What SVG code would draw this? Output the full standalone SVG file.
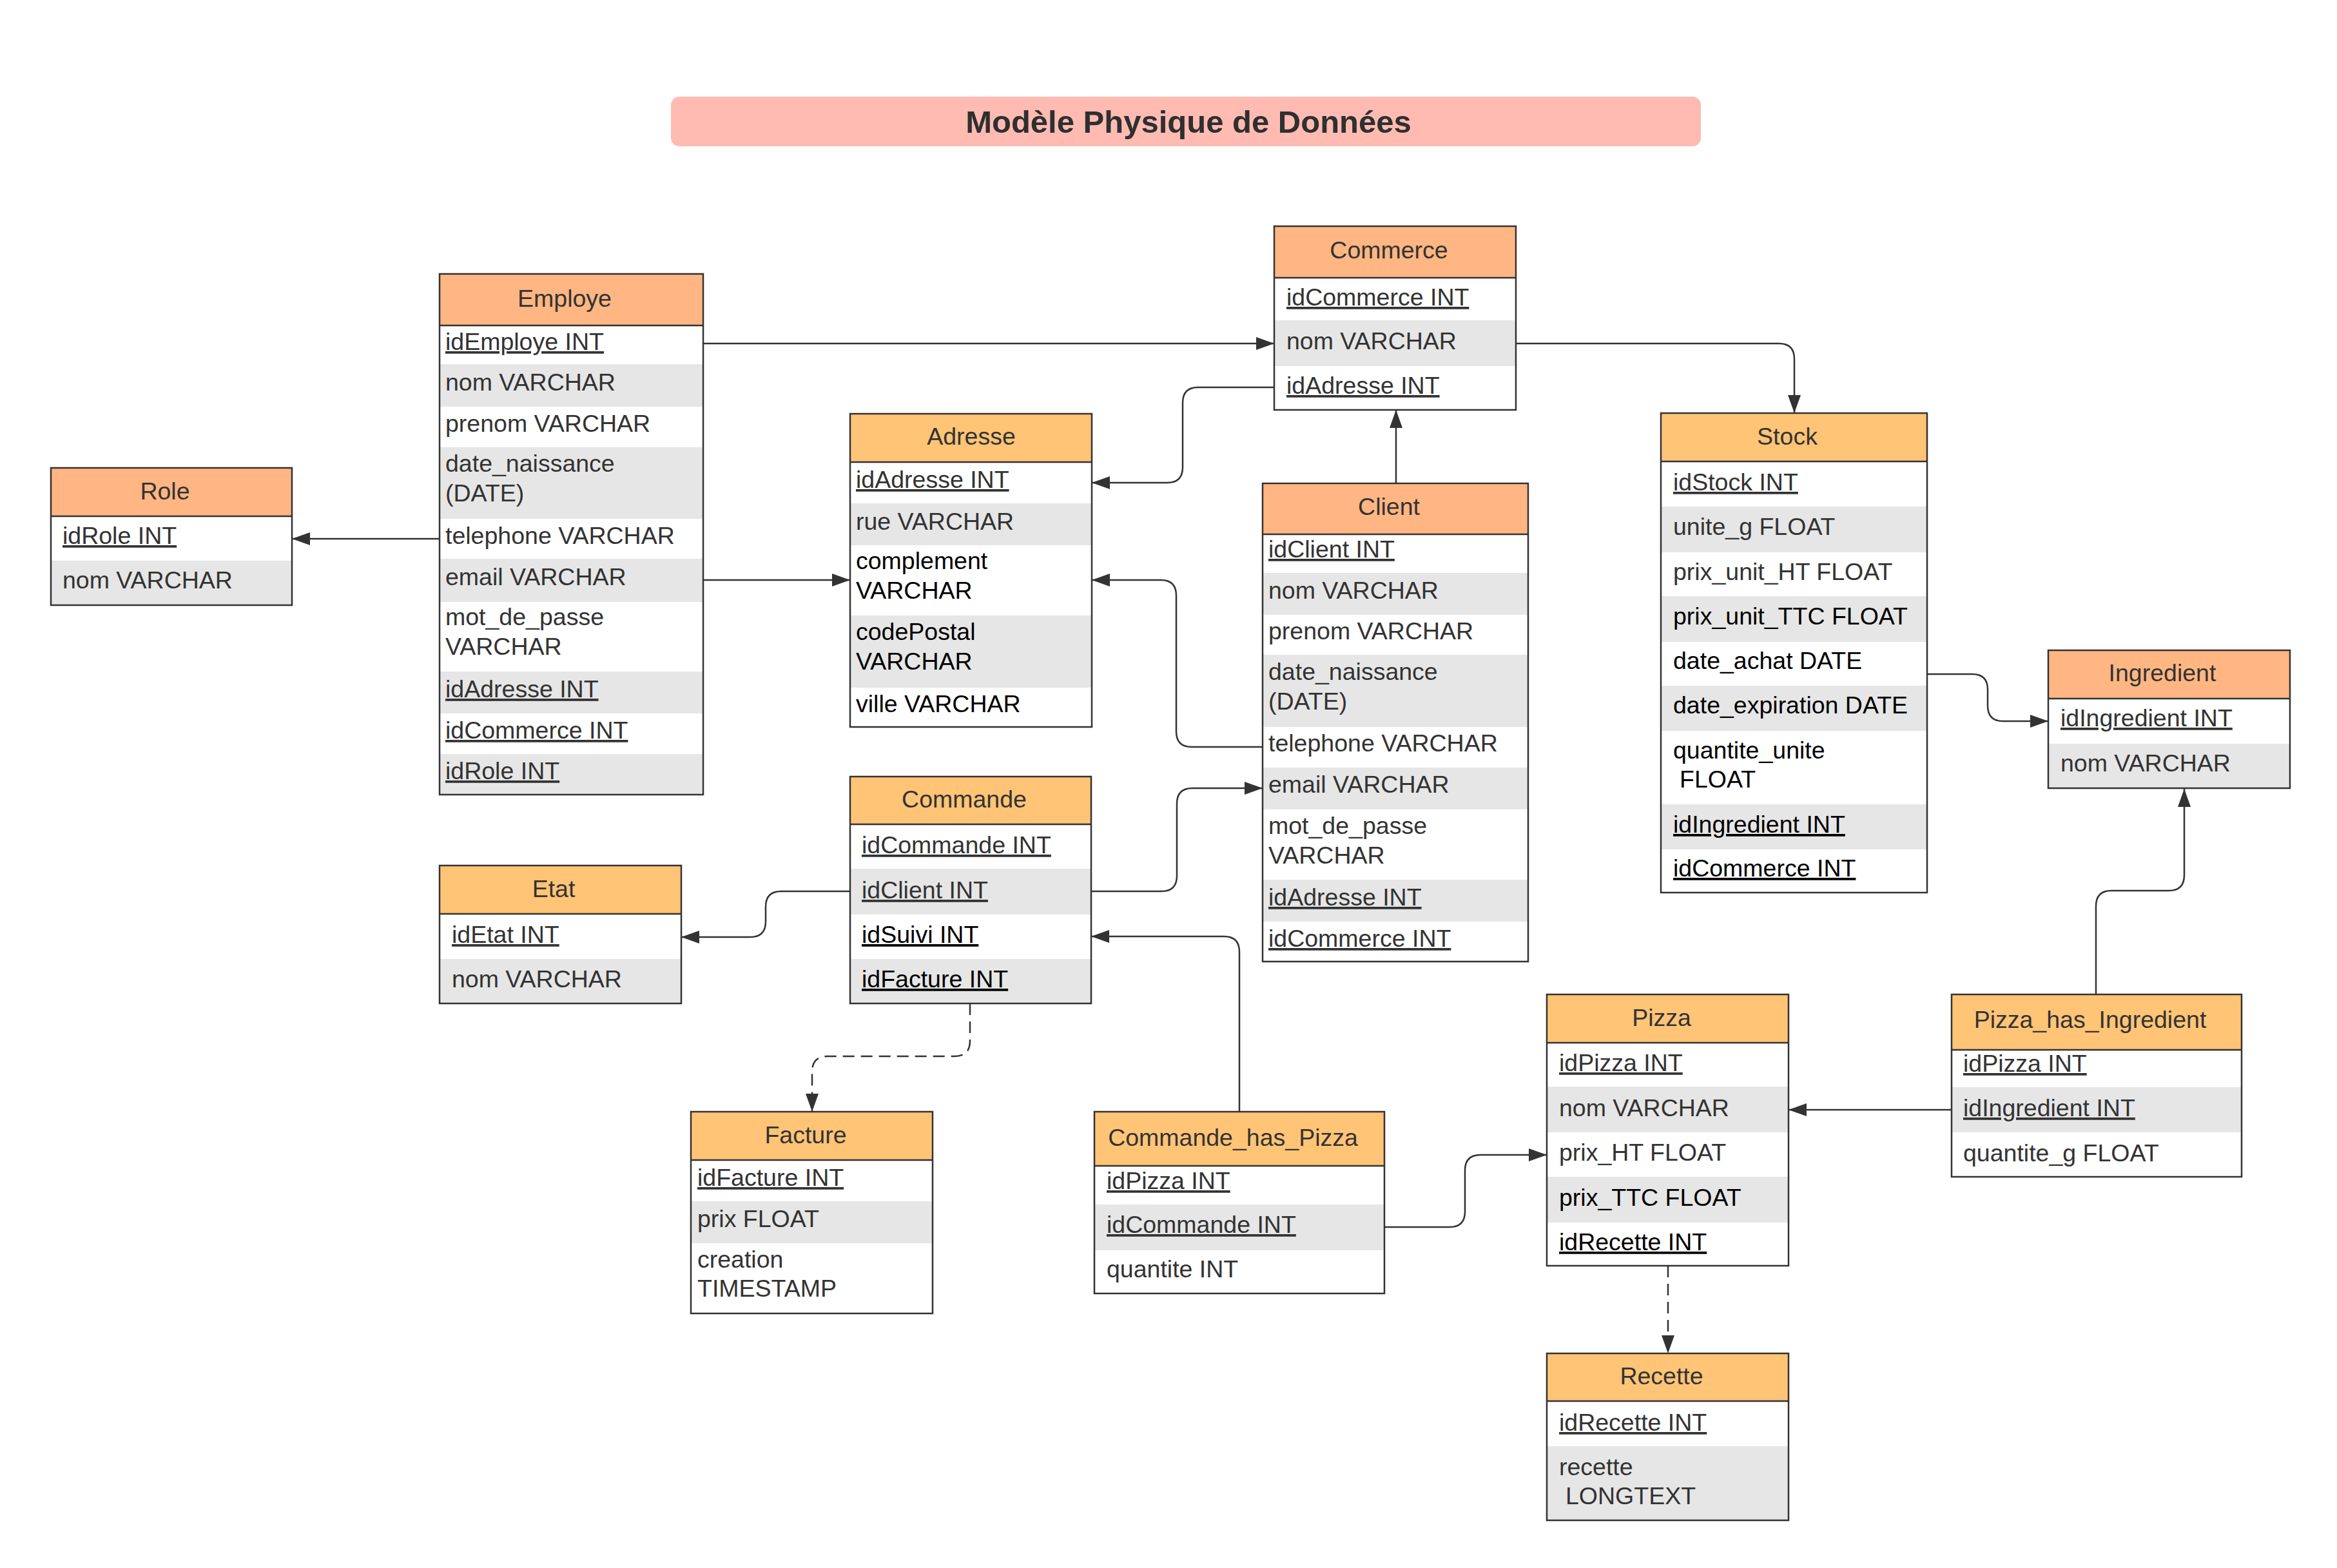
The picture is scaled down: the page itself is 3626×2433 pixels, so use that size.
<svg xmlns="http://www.w3.org/2000/svg" width="3626" height="2433" viewBox="0 0 3626 2433">
<style>
.bg{fill:#ffffff}
.hA{fill:#FFB682}
.hB{fill:#FFC476}
.w{fill:#ffffff}
.g{fill:#E6E6E6}
.box{fill:none;stroke:#333333;stroke-width:2.5}
.t{font-family:"Liberation Sans",Arial,sans-serif;font-size:37.5px;fill:#333333}
.k{fill:#000000}
.u{text-decoration:underline}
.h{text-anchor:middle}
.c{fill:none;stroke:#333333;stroke-width:2.5}
.d{stroke-dasharray:18 10}
</style>
<defs>
<marker id="arr" markerWidth="28" markerHeight="20" refX="28" refY="10" orient="auto" markerUnits="userSpaceOnUse"><path d="M0,0 L28,10 L0,20 Z" fill="#333333"/></marker>
</defs>
<rect class="bg" x="0" y="0" width="3626" height="2433"/>

<g id="title">
<rect x="1041" y="150" width="1598" height="77" rx="13" fill="#FFBBB2"/>
<text x="1844" y="206" class="h" font-family="Liberation Sans, Arial, sans-serif" font-size="49" font-weight="bold" fill="#2f2f2f">Modèle Physique de Données</text>
</g>

<g id="connectors">
<path class="c" d="M1091,533 H1977" marker-end="url(#arr)"/>
<path class="c" d="M682,836 H453" marker-end="url(#arr)"/>
<path class="c" d="M1091,900 H1319" marker-end="url(#arr)"/>
<path class="c" d="M1977,601 H1859 Q1835,601 1835,625 V725 Q1835,749 1811,749 H1694" marker-end="url(#arr)"/>
<path class="c" d="M2352,533 H2760 Q2784,533 2784,557 V641" marker-end="url(#arr)"/>
<path class="c" d="M2166,750 V636" marker-end="url(#arr)"/>
<path class="c" d="M1959,1159 H1849 Q1825,1159 1825,1135 V924 Q1825,900 1801,900 H1694" marker-end="url(#arr)"/>
<path class="c" d="M1693,1383 H1802 Q1826,1383 1826,1359 V1247 Q1826,1223 1850,1223 H1959" marker-end="url(#arr)"/>
<path class="c" d="M1923,1725 V1477 Q1923,1453 1899,1453 H1693" marker-end="url(#arr)"/>
<path class="c" d="M1319,1383 H1212 Q1188,1383 1188,1407 V1430 Q1188,1454 1164,1454 H1057" marker-end="url(#arr)"/>
<path class="c d" d="M1505,1557 V1615 Q1505,1639 1481,1639 H1284 Q1260,1639 1260,1663 V1725" marker-end="url(#arr)"/>
<path class="c" d="M2148,1904 H2249 Q2273,1904 2273,1880 V1816 Q2273,1792 2297,1792 H2400" marker-end="url(#arr)"/>
<path class="c" d="M3028,1722 H2775" marker-end="url(#arr)"/>
<path class="c" d="M3252,1543 V1406 Q3252,1382 3276,1382 H3365 Q3389,1382 3389,1358 V1224" marker-end="url(#arr)"/>
<path class="c" d="M2990,1046 H3060 Q3084,1046 3084,1070 V1095 Q3084,1119 3108,1119 H3178" marker-end="url(#arr)"/>
<path class="c d" d="M2588,1964 V2100" marker-end="url(#arr)"/>
</g>

<g id="employe">
<rect class="hA" x="682" y="425" width="409" height="80"/>
<rect class="w" x="682" y="505" width="409" height="60"/>
<rect class="g" x="682" y="565" width="409" height="66"/>
<rect class="w" x="682" y="631" width="409" height="63"/>
<rect class="g" x="682" y="694" width="409" height="111"/>
<rect class="w" x="682" y="805" width="409" height="62"/>
<rect class="g" x="682" y="867" width="409" height="67"/>
<rect class="w" x="682" y="934" width="409" height="108"/>
<rect class="g" x="682" y="1042" width="409" height="65"/>
<rect class="w" x="682" y="1107" width="409" height="63"/>
<rect class="g" x="682" y="1170" width="409" height="63"/>
<rect class="box" x="682" y="425" width="409" height="808"/>
<line class="box" x1="682" y1="505" x2="1091" y2="505"/>
<text class="t h" x="876" y="476">Employe</text>
<text class="t u" x="691" y="543">idEmploye INT</text>
<text class="t" x="691" y="606">nom VARCHAR</text>
<text class="t" x="691" y="670">prenom VARCHAR</text>
<text class="t" x="691" y="732">date_naissance</text>
<text class="t" x="691" y="778">(DATE)</text>
<text class="t" x="691" y="844">telephone VARCHAR</text>
<text class="t" x="691" y="908">email VARCHAR</text>
<text class="t" x="691" y="970">mot_de_passe</text>
<text class="t" x="691" y="1016">VARCHAR</text>
<text class="t u" x="691" y="1082">idAdresse INT</text>
<text class="t u" x="691" y="1146">idCommerce INT</text>
<text class="t u" x="691" y="1209">idRole INT</text>
</g>

<g id="role">
<rect class="hA" x="79" y="726" width="374" height="75"/>
<rect class="w" x="79" y="801" width="374" height="69"/>
<rect class="g" x="79" y="870" width="374" height="69"/>
<rect class="box" x="79" y="726" width="374" height="213"/>
<line class="box" x1="79" y1="801" x2="453" y2="801"/>
<text class="t h" x="256" y="775">Role</text>
<text class="t u" x="97" y="844">idRole INT</text>
<text class="t" x="97" y="913">nom VARCHAR</text>
</g>

<g id="commerce">
<rect class="hA" x="1977" y="351" width="375" height="80"/>
<rect class="w" x="1977" y="431" width="375" height="66"/>
<rect class="g" x="1977" y="497" width="375" height="71"/>
<rect class="w" x="1977" y="568" width="375" height="68"/>
<rect class="box" x="1977" y="351" width="375" height="285"/>
<line class="box" x1="1977" y1="431" x2="2352" y2="431"/>
<text class="t h" x="2155" y="401">Commerce</text>
<text class="t u" x="1996" y="474">idCommerce INT</text>
<text class="t" x="1996" y="542">nom VARCHAR</text>
<text class="t u" x="1996" y="611">idAdresse INT</text>
</g>

<g id="adresse">
<rect class="hB" x="1319" y="642" width="375" height="75"/>
<rect class="w" x="1319" y="717" width="375" height="64"/>
<rect class="g" x="1319" y="781" width="375" height="65"/>
<rect class="w" x="1319" y="846" width="375" height="109"/>
<rect class="g" x="1319" y="955" width="375" height="112"/>
<rect class="w" x="1319" y="1067" width="375" height="61"/>
<rect class="box" x="1319" y="642" width="375" height="486"/>
<line class="box" x1="1319" y1="717" x2="1694" y2="717"/>
<text class="t h" x="1507" y="690">Adresse</text>
<text class="t u" x="1328" y="757">idAdresse INT</text>
<text class="t" x="1328" y="822">rue VARCHAR</text>
<text class="t k" x="1328" y="883">complement</text>
<text class="t k" x="1328" y="929">VARCHAR</text>
<text class="t k" x="1328" y="993">codePostal</text>
<text class="t k" x="1328" y="1039">VARCHAR</text>
<text class="t k" x="1328" y="1105">ville VARCHAR</text>
</g>

<g id="client">
<rect class="hA" x="1959" y="750" width="412" height="79"/>
<rect class="w" x="1959" y="829" width="412" height="60"/>
<rect class="g" x="1959" y="889" width="412" height="65"/>
<rect class="w" x="1959" y="954" width="412" height="62"/>
<rect class="g" x="1959" y="1016" width="412" height="112"/>
<rect class="w" x="1959" y="1128" width="412" height="63"/>
<rect class="g" x="1959" y="1191" width="412" height="65"/>
<rect class="w" x="1959" y="1256" width="412" height="109"/>
<rect class="g" x="1959" y="1365" width="412" height="65"/>
<rect class="w" x="1959" y="1430" width="412" height="62"/>
<rect class="box" x="1959" y="750" width="412" height="742"/>
<line class="box" x1="1959" y1="829" x2="2371" y2="829"/>
<text class="t h" x="2155" y="799">Client</text>
<text class="t u" x="1968" y="865">idClient INT</text>
<text class="t" x="1968" y="929">nom VARCHAR</text>
<text class="t" x="1968" y="992">prenom VARCHAR</text>
<text class="t" x="1968" y="1055">date_naissance</text>
<text class="t" x="1968" y="1101">(DATE)</text>
<text class="t" x="1968" y="1166">telephone VARCHAR</text>
<text class="t" x="1968" y="1230">email VARCHAR</text>
<text class="t" x="1968" y="1294">mot_de_passe</text>
<text class="t" x="1968" y="1340">VARCHAR</text>
<text class="t u" x="1968" y="1405">idAdresse INT</text>
<text class="t u" x="1968" y="1469">idCommerce INT</text>
</g>

<g id="stock">
<rect class="hB" x="2577" y="641" width="413" height="75"/>
<rect class="w" x="2577" y="716" width="413" height="70"/>
<rect class="g" x="2577" y="786" width="413" height="71"/>
<rect class="w" x="2577" y="857" width="413" height="68"/>
<rect class="g" x="2577" y="925" width="413" height="71"/>
<rect class="w" x="2577" y="996" width="413" height="68"/>
<rect class="g" x="2577" y="1064" width="413" height="70"/>
<rect class="w" x="2577" y="1134" width="413" height="114"/>
<rect class="g" x="2577" y="1248" width="413" height="70"/>
<rect class="w" x="2577" y="1318" width="413" height="67"/>
<rect class="box" x="2577" y="641" width="413" height="744"/>
<line class="box" x1="2577" y1="716" x2="2990" y2="716"/>
<text class="t h" x="2773" y="690">Stock</text>
<text class="t u" x="2596" y="761">idStock INT</text>
<text class="t" x="2596" y="830">unite_g FLOAT</text>
<text class="t" x="2596" y="900">prix_unit_HT FLOAT</text>
<text class="t k" x="2596" y="969">prix_unit_TTC FLOAT</text>
<text class="t k" x="2596" y="1038">date_achat DATE</text>
<text class="t k" x="2596" y="1107">date_expiration DATE</text>
<text class="t k" x="2596" y="1177">quantite_unite</text>
<text class="t k" x="2606" y="1222">FLOAT</text>
<text class="t k u" x="2596" y="1292">idIngredient INT</text>
<text class="t k u" x="2596" y="1360">idCommerce INT</text>
</g>

<g id="ingredient">
<rect class="hA" x="3178" y="1009" width="375" height="75"/>
<rect class="w" x="3178" y="1084" width="375" height="70"/>
<rect class="g" x="3178" y="1154" width="375" height="69"/>
<rect class="box" x="3178" y="1009" width="375" height="214"/>
<line class="box" x1="3178" y1="1084" x2="3553" y2="1084"/>
<text class="t h" x="3355" y="1057">Ingredient</text>
<text class="t u" x="3197" y="1127">idIngredient INT</text>
<text class="t" x="3197" y="1197">nom VARCHAR</text>
</g>

<g id="commande">
<rect class="hB" x="1319" y="1205" width="374" height="74"/>
<rect class="w" x="1319" y="1279" width="374" height="69"/>
<rect class="g" x="1319" y="1348" width="374" height="71"/>
<rect class="w" x="1319" y="1419" width="374" height="69"/>
<rect class="g" x="1319" y="1488" width="374" height="69"/>
<rect class="box" x="1319" y="1205" width="374" height="352"/>
<line class="box" x1="1319" y1="1279" x2="1693" y2="1279"/>
<text class="t h" x="1496" y="1253">Commande</text>
<text class="t u" x="1337" y="1324">idCommande INT</text>
<text class="t u" x="1337" y="1394">idClient INT</text>
<text class="t k u" x="1337" y="1463">idSuivi INT</text>
<text class="t k u" x="1337" y="1532">idFacture INT</text>
</g>

<g id="etat">
<rect class="hB" x="682" y="1343" width="375" height="75"/>
<rect class="w" x="682" y="1418" width="375" height="70"/>
<rect class="g" x="682" y="1488" width="375" height="69"/>
<rect class="box" x="682" y="1343" width="375" height="214"/>
<line class="box" x1="682" y1="1418" x2="1057" y2="1418"/>
<text class="t h" x="859" y="1392">Etat</text>
<text class="t u" x="701" y="1463">idEtat INT</text>
<text class="t" x="701" y="1532">nom VARCHAR</text>
</g>

<g id="facture">
<rect class="hB" x="1072" y="1725" width="375" height="75"/>
<rect class="w" x="1072" y="1800" width="375" height="64"/>
<rect class="g" x="1072" y="1864" width="375" height="65"/>
<rect class="w" x="1072" y="1929" width="375" height="109"/>
<rect class="box" x="1072" y="1725" width="375" height="313"/>
<line class="box" x1="1072" y1="1800" x2="1447" y2="1800"/>
<text class="t h" x="1250" y="1774">Facture</text>
<text class="t u" x="1082" y="1840">idFacture INT</text>
<text class="t" x="1082" y="1904">prix FLOAT</text>
<text class="t" x="1082" y="1967">creation</text>
<text class="t" x="1082" y="2012">TIMESTAMP</text>
</g>

<g id="commande_has_pizza">
<rect class="hB" x="1698" y="1725" width="450" height="84"/>
<rect class="w" x="1698" y="1809" width="450" height="60"/>
<rect class="g" x="1698" y="1869" width="450" height="71"/>
<rect class="w" x="1698" y="1940" width="450" height="67"/>
<rect class="box" x="1698" y="1725" width="450" height="282"/>
<line class="box" x1="1698" y1="1809" x2="2148" y2="1809"/>
<text class="t h" x="1913" y="1778">Commande_has_Pizza</text>
<text class="t u" x="1717" y="1845">idPizza INT</text>
<text class="t u" x="1717" y="1913">idCommande INT</text>
<text class="t" x="1717" y="1982">quantite INT</text>
</g>

<g id="pizza">
<rect class="hB" x="2400" y="1543" width="375" height="75"/>
<rect class="w" x="2400" y="1618" width="375" height="68"/>
<rect class="g" x="2400" y="1686" width="375" height="71"/>
<rect class="w" x="2400" y="1757" width="375" height="69"/>
<rect class="g" x="2400" y="1826" width="375" height="71"/>
<rect class="w" x="2400" y="1897" width="375" height="67"/>
<rect class="box" x="2400" y="1543" width="375" height="421"/>
<line class="box" x1="2400" y1="1618" x2="2775" y2="1618"/>
<text class="t h" x="2578" y="1592">Pizza</text>
<text class="t u" x="2419" y="1662">idPizza INT</text>
<text class="t" x="2419" y="1732">nom VARCHAR</text>
<text class="t" x="2419" y="1801">prix_HT FLOAT</text>
<text class="t k" x="2419" y="1871">prix_TTC FLOAT</text>
<text class="t k u" x="2419" y="1940">idRecette INT</text>
</g>

<g id="pizza_has_ingredient">
<rect class="hB" x="3028" y="1543" width="450" height="86"/>
<rect class="w" x="3028" y="1629" width="450" height="58"/>
<rect class="g" x="3028" y="1687" width="450" height="70"/>
<rect class="w" x="3028" y="1757" width="450" height="69"/>
<rect class="box" x="3028" y="1543" width="450" height="283"/>
<line class="box" x1="3028" y1="1629" x2="3478" y2="1629"/>
<text class="t h" x="3243" y="1595">Pizza_has_Ingredient</text>
<text class="t u" x="3046" y="1663">idPizza INT</text>
<text class="t u" x="3046" y="1732">idIngredient INT</text>
<text class="t" x="3046" y="1802">quantite_g FLOAT</text>
</g>

<g id="recette">
<rect class="hB" x="2400" y="2100" width="375" height="74"/>
<rect class="w" x="2400" y="2174" width="375" height="70"/>
<rect class="g" x="2400" y="2244" width="375" height="115"/>
<rect class="box" x="2400" y="2100" width="375" height="259"/>
<line class="box" x1="2400" y1="2174" x2="2775" y2="2174"/>
<text class="t h" x="2578" y="2148">Recette</text>
<text class="t u" x="2419" y="2220">idRecette INT</text>
<text class="t" x="2419" y="2289">recette</text>
<text class="t" x="2429" y="2334">LONGTEXT</text>
</g>
</svg>
